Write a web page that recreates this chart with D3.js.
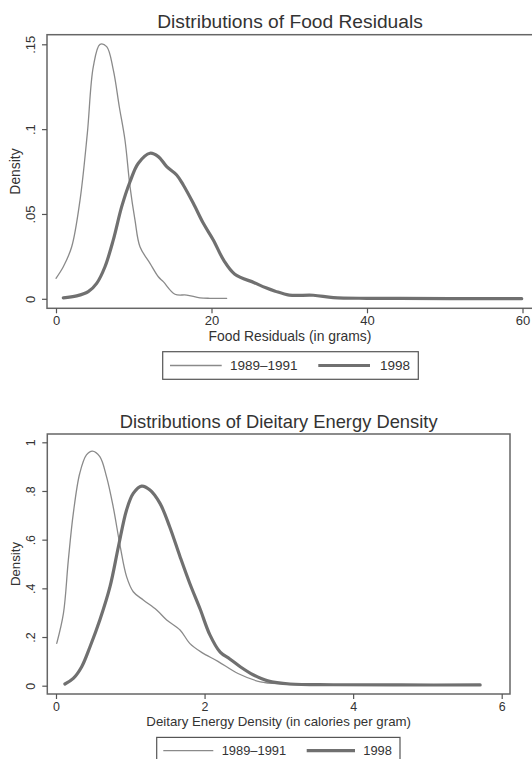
<!DOCTYPE html>
<html>
<head>
<meta charset="utf-8">
<script src="https://cdn.jsdelivr.net/npm/d3@7"></script>
<style>
  html, body { margin: 0; padding: 0; background: #fff; }
  svg { display: block; }
  text { font-family: "Liberation Sans", Arial, Helvetica, sans-serif; fill: #333; }
</style>
</head>
<body>
<svg id="chart" width="532" height="759"></svg>
<script>
// ---------- DATA ----------
const seriesNames = ["1989\u20131991", "1998"];

// Panel 1: Food residuals (grams) vs density
const foodTitle = "Distributions of Food Residuals";
const foodXTitle = "Food Residuals (in grams)";
const foodXTicks = [0, 20, 40, 60];
const foodYTicks = [0, 0.05, 0.1, 0.15];
const foodYTickLabels = ["0", ".05", ".1", ".15"];
const food1989 = [
  [0.0, 0.0121], [0.94, 0.0189], [2.02, 0.0307], [3.09, 0.0582], [4.03, 0.0975],
  [4.80, 0.1368], [5.66, 0.1500], [6.52, 0.1486], [7.37, 0.1349], [8.14, 0.1132],
  [8.87, 0.0936], [9.52, 0.0661], [10.16, 0.0464], [10.8, 0.0307], [12.09, 0.0209],
  [13.16, 0.0130], [13.8, 0.0101], [15.3, 0.0027], [16.81, 0.0022], [18.52, 0.0006],
  [19.8, 0.0003], [21.95, 0.0003]
];
const food1998 = [
  [0.94, 0.0006], [2.66, 0.0017], [4.15, 0.0042], [5.23, 0.0091], [6.30, 0.0189],
  [7.37, 0.0347], [8.45, 0.0543], [9.52, 0.0690], [10.59, 0.0799], [12.09, 0.0858],
  [13.16, 0.0838], [14.24, 0.0779], [15.52, 0.0730], [16.37, 0.0671], [17.66, 0.0563],
  [18.95, 0.0445], [20.23, 0.0347], [21.6, 0.0225], [23.0, 0.0145], [25.5, 0.0095],
  [27.0, 0.0065], [28.2, 0.0045], [30.0, 0.0022], [33.09, 0.0021], [35.67, 0.0007],
  [39.96, 0.0003], [44.24, 0.0003], [50.68, 0.0001], [59.9, 0.0001]
];

// Panel 2: Dietary energy density (cal/g) vs density
const dedTitle = "Distributions of Dieitary Energy Density";
const dedXTitle = "Deitary Energy Density (in calories per gram)";
const dedXTicks = [0, 2, 4, 6];
const dedYTicks = [0, 0.2, 0.4, 0.6, 0.8, 1];
const dedYTickLabels = ["0", ".2", ".4", ".6", ".8", "1"];
const ded1989 = [
  [0.01, 0.174], [0.10, 0.297], [0.166, 0.516], [0.233, 0.708], [0.32, 0.873],
  [0.41, 0.948], [0.49, 0.964], [0.59, 0.941], [0.68, 0.859], [0.77, 0.735],
  [0.865, 0.571], [0.95, 0.448], [1.04, 0.386], [1.175, 0.352], [1.355, 0.311],
  [1.49, 0.270], [1.67, 0.229], [1.80, 0.174], [1.96, 0.137], [2.18, 0.100],
  [2.45, 0.050], [2.75, 0.016], [3.06, 0.007], [3.28, 0.004], [3.6, 0.003]
];
const ded1998 = [
  [0.12, 0.007], [0.233, 0.030], [0.346, 0.078], [0.458, 0.160], [0.59, 0.270],
  [0.727, 0.407], [0.84, 0.571], [0.95, 0.722], [1.04, 0.790], [1.153, 0.820],
  [1.265, 0.804], [1.40, 0.749], [1.53, 0.653], [1.67, 0.530], [1.80, 0.421],
  [1.94, 0.315], [2.07, 0.210], [2.21, 0.138], [2.34, 0.110], [2.48, 0.078],
  [2.66, 0.044], [2.85, 0.020], [3.15, 0.007], [3.73, 0.004], [4.63, 0.003], [5.71, 0.003]
];

// ---------- DRAWING ----------
const svg = d3.select("#chart");
const thinStyle = { color: "#8a8a8a", width: 1.3 };
const thickStyle = { color: "#707070", width: 3.2 };

function drawPanel(p) {
  const g = svg.append("g");
  const f = p.frame;
  const s = p.scale;
  const x = d3.scaleLinear().domain(p.xDomain).range(p.xRange);
  const y = d3.scaleLinear().domain(p.yDomain).range(p.yRange);

  // title
  g.append("text")
    .attr("x", (f.left + f.right) / 2).attr("y", f.top - 6.3)
    .attr("text-anchor", "middle")
    .style("font-size", (19.2 * s) + "px")
    .text(p.title);

  // curves
  const line = d3.line().x(d => x(d[0])).y(d => y(d[1])).curve(d3.curveCatmullRom.alpha(0.5));
  [[p.series[0], thinStyle], [p.series[1], thickStyle]].forEach(([data, st]) => {
    g.append("path").datum(data)
      .attr("d", line)
      .attr("fill", "none")
      .attr("stroke", st.color)
      .attr("stroke-width", st.width)
      .attr("stroke-linejoin", "round")
      .attr("stroke-linecap", "round");
  });

  // frame
  g.append("rect")
    .attr("x", f.left).attr("y", f.top)
    .attr("width", f.right - f.left).attr("height", f.bottom - f.top)
    .attr("fill", "none").attr("stroke", "#666").attr("stroke-width", 1.5);

  // x axis
  const xa = g.append("g").attr("transform", `translate(0,${f.bottom})`)
    .call(d3.axisBottom(x).tickValues(p.xTicks).tickSize(5).tickFormat(d3.format("d")));
  xa.select(".domain").remove();
  xa.selectAll(".tick line").attr("stroke", "#555").attr("stroke-width", 1.2);
  xa.selectAll(".tick text")
    .attr("y", 17.2).attr("dy", null)
    .style("font-size", (13 * s) + "px")
    .style("font-family", '"Liberation Sans", Arial, sans-serif')
    .attr("fill", "#333");

  // y axis
  const ya = g.append("g").attr("transform", `translate(${f.left},0)`)
    .call(d3.axisLeft(y).tickValues(p.yTicks).tickSize(5)
      .tickFormat((d, i) => p.yTickLabels[i]));
  ya.select(".domain").remove();
  ya.selectAll(".tick line").attr("stroke", "#555").attr("stroke-width", 1.2);
  ya.selectAll(".tick text")
    .attr("x", null).attr("dy", null)
    .attr("transform", "translate(-12,0) rotate(-90)")
    .attr("text-anchor", "middle")
    .style("font-size", (13 * s) + "px")
    .style("font-family", '"Liberation Sans", Arial, sans-serif')
    .attr("fill", "#333");

  // axis titles
  g.append("text")
    .attr("x", (f.left + f.right) / 2).attr("y", f.bottom + 32.2)
    .attr("text-anchor", "middle")
    .style("font-size", (13.9 * s) + "px")
    .text(p.xTitle);
  g.append("text")
    .attr("transform", `translate(19.5,${(f.top + f.bottom) / 2}) rotate(-90)`)
    .attr("text-anchor", "middle")
    .style("font-size", (13.9 * s) + "px")
    .text("Density");

  // legend
  const L = p.legend;
  const lg = g.append("g");
  lg.append("rect")
    .attr("x", L.x).attr("y", L.y).attr("width", L.w).attr("height", L.h)
    .attr("fill", "#fff").attr("stroke", "#555").attr("stroke-width", 1.2);
  const cy = L.y + L.h / 2;
  [[L.items[0], thinStyle], [L.items[1], thickStyle]].forEach(([it, st], i) => {
    lg.append("line")
      .attr("x1", it.x1).attr("x2", it.x2).attr("y1", cy).attr("y2", cy)
      .attr("stroke", st.color).attr("stroke-width", st.width);
    lg.append("text")
      .attr("x", it.tx).attr("y", cy + 4.8 * s)
      .style("font-size", (13.5 * s) + "px")
      .text(seriesNames[i]);
  });
}

drawPanel({
  title: foodTitle, xTitle: foodXTitle, scale: 1,
  frame: { left: 47, top: 34.7, right: 533, bottom: 308.3 },
  xDomain: [0, 60], xRange: [56, 522.5],
  yDomain: [0, 0.15], yRange: [298.8, 44.3],
  xTicks: foodXTicks, yTicks: foodYTicks, yTickLabels: foodYTickLabels,
  series: [food1989, food1998],
  legend: { x: 162.7, y: 351.7, w: 255.6, h: 27.6,
    items: [{ x1: 170, x2: 221.7, tx: 230 }, { x1: 318.3, x2: 370, tx: 380 }] }
});

drawPanel({
  title: dedTitle, xTitle: dedXTitle, scale: 0.955,
  frame: { left: 47.3, top: 434, right: 510, bottom: 694 },
  xDomain: [0, 6], xRange: [56, 501.7],
  yDomain: [0, 1], yRange: [685.7, 442.3],
  xTicks: dedXTicks, yTicks: dedYTicks, yTickLabels: dedYTickLabels,
  series: [ded1989, ded1998],
  legend: { x: 156.7, y: 737.4, w: 243.3, h: 26.3,
    items: [{ x1: 163.3, x2: 213.3, tx: 221.7 }, { x1: 306.7, x2: 355, tx: 363.3 }] }
});
</script>
</body>
</html>
